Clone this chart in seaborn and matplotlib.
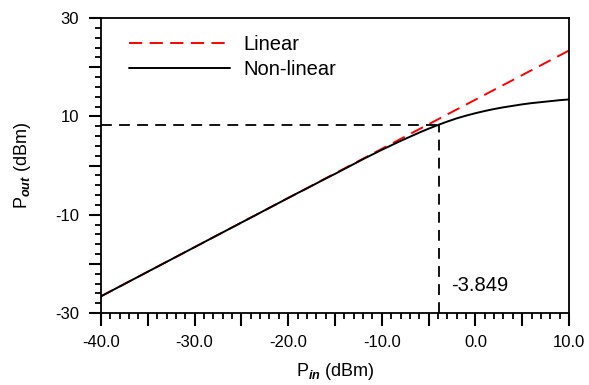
import numpy as np
import pandas as pd
import matplotlib
matplotlib.use("Agg")
import matplotlib.pyplot as plt
import seaborn as sns

# Input power sweep (dBm)
p_in = list(range(-40, 11))

# Ideal linear amplifier output (dBm)
p_linear = [-26.6, -25.6, -24.6, -23.6, -22.6, -21.6, -20.6, -19.6, -18.6, -17.6,
            -16.6, -15.6, -14.6, -13.6, -12.6, -11.6, -10.6, -9.6, -8.6, -7.6,
            -6.6, -5.6, -4.6, -3.6, -2.6, -1.6, -0.6, 0.4, 1.4, 2.4,
            3.4, 4.4, 5.4, 6.4, 7.4, 8.4, 9.4, 10.4, 11.4, 12.4,
            13.4, 14.4, 15.4, 16.4, 17.4, 18.4, 19.4, 20.4, 21.4, 22.4,
            23.4]

# Compressed (non-linear) amplifier output (dBm)
p_nonlinear = [-26.6, -25.6, -24.6, -23.6, -22.6, -21.6, -20.6, -19.6, -18.6, -17.6,
               -16.6, -15.6, -14.6, -13.6, -12.6, -11.6, -10.6, -9.6, -8.6, -7.6,
               -6.6, -5.6, -4.65, -3.65, -2.65, -1.7, -0.7, 0.3, 1.3, 2.25,
               3.2, 4.1, 5.0, 5.85, 6.7, 7.5, 8.25, 8.95, 9.6, 10.15,
               10.65, 11.1, 11.5, 11.85, 12.15, 12.45, 12.7, 12.9, 13.1, 13.3,
               13.45]

# 1-dB compression point
p1db_in = -3.849
p1db_out = 8.25
p1db_label = "-3.849"

x_ticklabels = ["-40.0", "-30.0", "-20.0", "-10.0", "0.0", "10.0"]
y_ticklabels = ["-30", "-10", "10", "30"]

sns.set_style("ticks")
plt.rcParams["font.family"] = ["Liberation Sans", "DejaVu Sans"]
plt.rcParams["axes.unicode_minus"] = False
plt.rcParams["mathtext.fontset"] = "custom"
plt.rcParams["mathtext.rm"] = "Liberation Sans"
plt.rcParams["mathtext.it"] = "Liberation Sans:italic:bold"
plt.rcParams["mathtext.bf"] = "Liberation Sans:bold"
plt.rcParams["text.color"] = "black"
plt.rcParams["axes.labelcolor"] = "black"
plt.rcParams["xtick.color"] = "black"
plt.rcParams["ytick.color"] = "black"

df = pd.DataFrame({"pin": p_in, "linear": p_linear, "nonlinear": p_nonlinear})

fig = plt.figure(figsize=(5.89, 3.85), dpi=100)
ax = fig.add_axes([0.1715, 0.187, 0.7945, 0.766])

sns.lineplot(data=df, x="pin", y="linear", ax=ax, color="#ff0000",
             linewidth=1.4, label="Linear")
ax.lines[-1].set_dashes((6.8, 3.8))
sns.lineplot(data=df, x="pin", y="nonlinear", ax=ax, color="black",
             linewidth=1.4, label="Non-linear")

# Guide lines to the compression point
ax.plot([-40, p1db_in], [p1db_out, p1db_out], color="black", lw=1.3,
        dashes=(6, 4))
ax.plot([p1db_in, p1db_in], [-30, p1db_out], color="black", lw=1.3,
        dashes=(6, 4))
ax.text(p1db_in + 1.3, -24.5, p1db_label, fontsize=14.5, ha="left",
        va="center", color="black")

ax.set_xlim(-40, 10)
ax.set_ylim(-30, 30)

ax.set_xticks(np.arange(-40, 10.1, 5))
ax.set_xticks(np.arange(-40, 10.1, 1), minor=True)
ax.set_xticklabels([x_ticklabels[i // 2] if i % 2 == 0 else ""
                    for i in range(11)])
ax.set_yticks(np.arange(-30, 30.1, 10))
ax.set_yticks(np.arange(-30, 30.1, 2), minor=True)
ax.set_yticklabels([y_ticklabels[i // 2] if i % 2 == 0 else ""
                    for i in range(7)])

ax.tick_params(axis="both", which="major", direction="out", length=9,
               width=1.5, labelsize=12, color="black", labelcolor="black")
ax.tick_params(axis="x", which="major", pad=7)
ax.tick_params(axis="y", which="major", pad=7)
ax.tick_params(axis="both", which="minor", direction="out", length=4.5,
               width=1.3, color="black")

for s in ax.spines.values():
    s.set_linewidth(1.3)
    s.set_color("black")
    s.set_visible(True)

ax.set_xlabel(r"P$_{\mathit{in}}$ (dBm)", fontsize=13, labelpad=8,
              color="black")
ax.set_ylabel(r"P$_{\mathit{out}}$ (dBm)", fontsize=13, labelpad=16,
              color="black")

leg = ax.legend(loc="upper left", bbox_to_anchor=(0.022, 1.005), frameon=False,
                fontsize=14.5, handlelength=5.0, handletextpad=0.65,
                labelspacing=0.3)
for t in leg.get_texts():
    t.set_color("black")

fig.savefig("out.png", dpi=100)
